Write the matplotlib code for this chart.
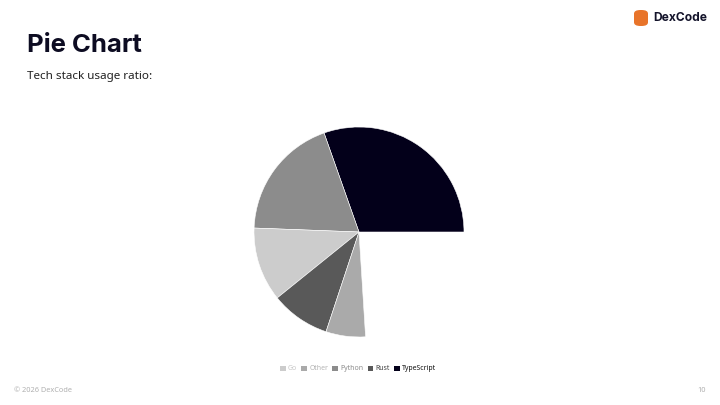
import matplotlib
matplotlib.use("Agg")
import matplotlib.pyplot as plt
from matplotlib.patches import Patch, FancyBboxPatch

# data
langs = ["TypeScript", "Python", "Go", "Rust", "Other"]
usage = [40, 25, 15, 12, 8]
colors = ["#03001a", "#8c8c8c", "#cccccc", "#595959", "#aaaaaa"]
legend_order = ["Go", "Other", "Python", "Rust", "TypeScript"]
legend_text = ["#c8c8c8", "#b4b4b4", "#8c8c8c", "#444444", "#111111"]
sweep = 0.76  # part of the circle that is drawn in the reference

W, H = 720, 405
fig = plt.figure(figsize=(W / 100, H / 100), dpi=100)
fig.patch.set_facecolor("white")

# pie centred at (359, 232) px, radius ~105 px
cx, cy, r = 359, 232, 105
ax = fig.add_axes([(cx - r) / W, (H - cy - r) / H, 2 * r / W, 2 * r / H])
total = sum(usage)
ax.pie([v / total * sweep for v in usage], colors=colors, startangle=0,
       counterclock=True, normalize=False, radius=1,
       wedgeprops=dict(edgecolor="white", linewidth=0.4))
ax.set_xlim(-1, 1)
ax.set_ylim(-1, 1)
ax.set_aspect("auto")
ax.axis("off")

# legend
handles = [Patch(facecolor=colors[langs.index(n)], edgecolor="none") for n in legend_order]
leg = fig.legend(handles, legend_order, loc="center", bbox_to_anchor=(358 / W, 1 - 369 / H),
                 ncol=5, frameon=False, handlelength=0.85, handleheight=0.7,
                 handletextpad=0.3, columnspacing=0.6, labelcolor=legend_text,
                 prop={"family": "Noto Sans", "size": 5})

# titles
fig.text(27 / W, 1 - 45 / H, "Pie Chart", fontsize=18.5, fontweight="bold",
         family="Inter", color="#0d0c22", va="center", ha="left")
fig.text(27 / W, 1 - 76 / H, "Tech stack usage ratio:", fontsize=8.4,
         family="Noto Sans", color="#222222", va="center", ha="left")

# logo
fig.patches.append(FancyBboxPatch((634 / W, 1 - 26 / H), 14 / W, 16 / H,
                                  boxstyle="round,pad=0,rounding_size=0.009",
                                  transform=fig.transFigure, facecolor="#e8742a",
                                  edgecolor="none"))
fig.text(653 / W, 1 - 18 / H, "DexCode", fontsize=8.7, fontweight="bold",
         family="Inter", color="#14142b", va="center", ha="left")

# footer
fig.text(14 / W, 1 - 391 / H, "\u00a9 2026 DexCode", fontsize=5.3, family="Noto Sans",
         color="#b0b0b0", va="center", ha="left")
fig.text(706 / W, 1 - 391 / H, "10", fontsize=5.3, family="Noto Sans",
         color="#b0b0b0", va="center", ha="right")

fig.savefig("out.png", dpi=100, facecolor="white")
